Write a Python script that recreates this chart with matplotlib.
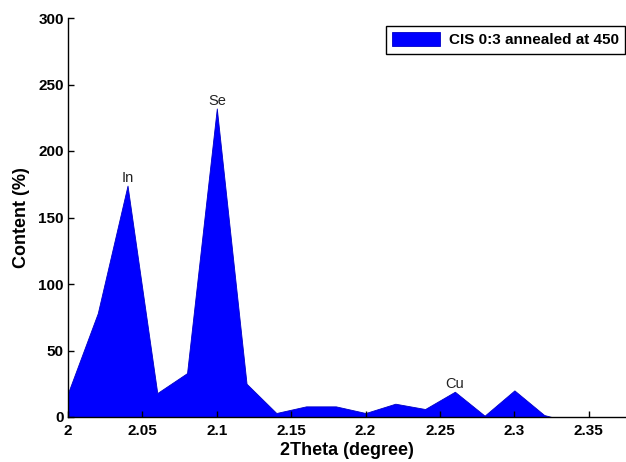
import matplotlib
matplotlib.use('Agg')
import matplotlib.pyplot as plt

theta = [2.00, 2.02, 2.04, 2.06, 2.08, 2.10, 2.12, 2.14, 2.16, 2.18,
         2.20, 2.22, 2.24, 2.26, 2.28, 2.30, 2.32, 2.325]
content = [18, 78, 174, 18, 33, 232, 25, 3, 8, 8,
           3, 10, 6, 19, 1, 20, 1.5, 0]
peak_names = ['In', 'Se', 'Cu']
peak_index = [2, 5, 13]
series_label = 'CIS 0:3 annealed at 450'
xticks = [2.0, 2.05, 2.1, 2.15, 2.2, 2.25, 2.3, 2.35]
xtick_labels = ['2', '2.05', '2.1', '2.15', '2.2', '2.25', '2.3', '2.35']
yticks = [0, 50, 100, 150, 200, 250, 300]

plt.rcParams['font.family'] = ['Liberation Sans', 'DejaVu Sans']

fig = plt.figure(figsize=(6.26, 4.62), dpi=100, facecolor='white')
ax = fig.add_axes([68 / 626, 45 / 462, 558 / 626, 399 / 462])

ax.fill_between(theta, content, 0, facecolor='#0000FF', edgecolor='#0000C8',
                linewidth=0.6, label=series_label)

# element names over the peaks
for name, i in zip(peak_names, peak_index):
    ax.text(theta[i], content[i] + 0.5, name, ha='center', va='bottom',
            fontsize=10.5, color='#222222')

ax.set_xlim(2.0, 2.375)
ax.set_ylim(0, 300)
ax.set_xticks(xticks)
ax.set_xticklabels(xtick_labels)
ax.set_yticks(yticks)
ax.tick_params(direction='in', length=4, width=1, labelsize=11, pad=3)
ax.tick_params(axis='x', pad=5)
for lab in ax.get_xticklabels() + ax.get_yticklabels():
    lab.set_fontweight('bold')

ax.spines['top'].set_visible(False)
ax.spines['right'].set_visible(False)
ax.spines['left'].set_linewidth(1)
ax.spines['bottom'].set_linewidth(1)

ax.set_xlabel('2Theta (degree)', fontsize=13, fontweight='bold', labelpad=3)
ax.set_ylabel('Content (%)', fontsize=13, fontweight='bold', labelpad=6)

leg = ax.legend(loc='upper right', bbox_to_anchor=(625 / 626, 1 - 26 / 462),
                bbox_transform=fig.transFigure, borderaxespad=0,
                prop={'weight': 'bold', 'size': 11}, fancybox=False,
                framealpha=1, edgecolor='black', handlelength=3.1,
                handleheight=1.05, handletextpad=0.6, borderpad=0.4)
leg.get_frame().set_linewidth(1)

fig.savefig('out.png', dpi=100)
plt.close(fig)
